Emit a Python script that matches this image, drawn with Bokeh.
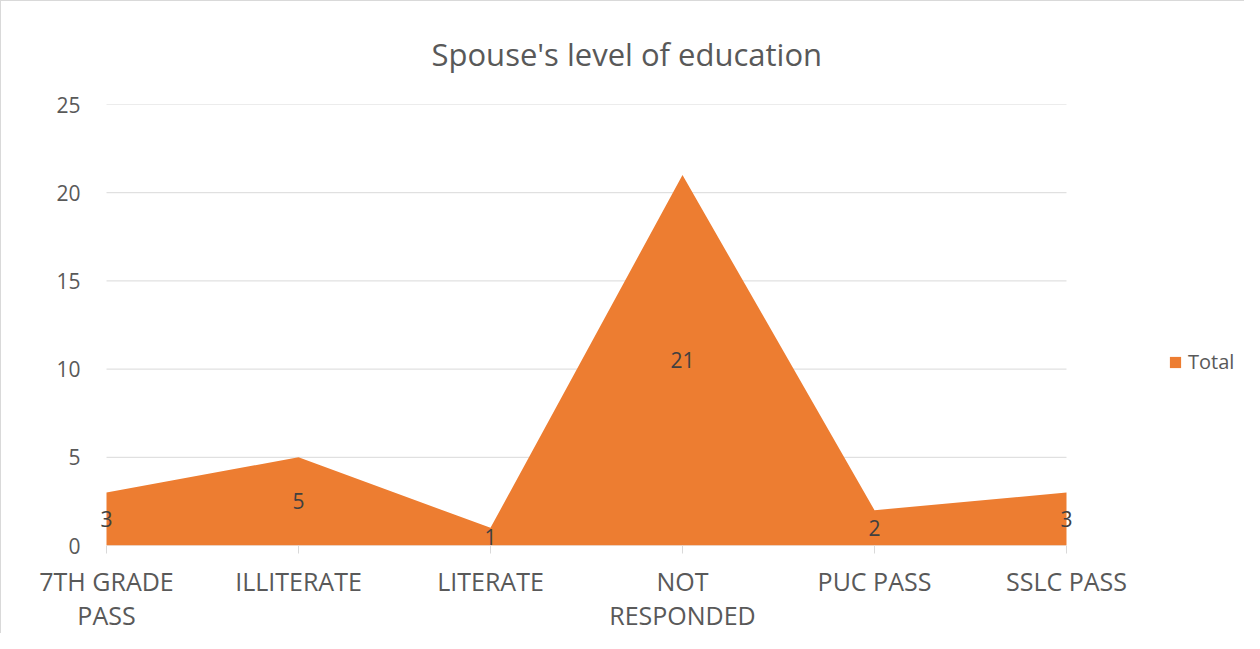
from bokeh.plotting import figure
from bokeh.models import ColumnDataSource, Legend, LegendItem, FixedTicker, Range1d
from bokeh.core.properties import value
from bokeh.embed import file_html
from bokeh.resources import INLINE

categories = ["7TH GRADE\nPASS", "ILLITERATE", "LITERATE", "NOT\nRESPONDED", "PUC PASS", "SSLC PASS"]
totals = [3, 5, 1, 21, 2, 3]
y_ticks = [0, 5, 10, 15, 20, 25]

FONT = "Open Sans"
ORANGE = "#ED7D31"
GRAY = "#595959"
GRID = "#d9d9d9"

n = len(categories)
xs = list(range(n))
src = ColumnDataSource(dict(
    x=xs,
    y=totals,
    y0=[0] * n,
    ymid=[v / 2 for v in totals],
    lbl=[str(v) for v in totals],
))
grid_src = ColumnDataSource(dict(
    x0=[0] * len(y_ticks),
    x1=[n - 1] * len(y_ticks),
    y=y_ticks,
))

W, H = 1244, 633
CAT_LEFT, TOP, BOTTOM = 105, 103, 87
PAD = 15  # extra frame room left of the first category so its label is not clipped
LEFT = CAT_LEFT - PAD
plot_w = 960  # width of the category span in pixels
step = plot_w / (n - 1)
x_start = -PAD / step
x_end = (n - 1) + (W - CAT_LEFT - plot_w) / step

p = figure(width=W, height=H, output_backend="svg", toolbar_location=None,
           x_range=Range1d(x_start, x_end), y_range=Range1d(0, 25),
           min_border_left=LEFT, min_border_right=0, min_border_top=TOP,
           min_border_bottom=BOTTOM)

p.title.text = "Spouse's level of education"
p.title.align = "left"
p.title.offset = 340
p.title.vertical_align = "top"
p.title.text_font = FONT
p.title.text_font_size = "31px"
p.title.text_font_style = "normal"
p.title.text_color = GRAY
p.title.standoff = 55

p.segment(x0="x0", x1="x1", y0="y", y1="y", source=grid_src,
          line_color=GRID, line_width=1)

area = p.varea(x="x", y1="y0", y2="y", source=src, fill_color=ORANGE)

p.text(x="x", y="ymid", text="lbl", source=src, text_font=value(FONT),
       text_font_size="21px", text_color="#404040", text_align="center",
       text_baseline="middle")

# axes
p.xaxis.ticker = FixedTicker(ticks=xs)
p.xaxis.major_label_overrides = {i: c for i, c in enumerate(categories)}
p.xaxis.major_label_text_font = FONT
p.xaxis.major_label_text_font_size = "25px"
p.xaxis.major_label_text_color = GRAY
p.xaxis.major_label_text_line_height = 1.0
p.xaxis.axis_line_color = None
p.xaxis.major_tick_line_color = GRID
p.xaxis.major_tick_out = 8
p.xaxis.major_tick_in = 0
p.xaxis.minor_tick_line_color = None
p.xaxis.major_label_standoff = 10

p.yaxis.ticker = FixedTicker(ticks=y_ticks)
p.yaxis.major_label_text_font = FONT
p.yaxis.major_label_text_font_size = "21px"
p.yaxis.major_label_text_color = GRAY
p.yaxis.axis_line_color = None
p.yaxis.major_tick_line_color = None
p.yaxis.minor_tick_line_color = None
p.yaxis.major_label_standoff = 20 - PAD

p.xgrid.grid_line_color = None
p.ygrid.grid_line_color = None
p.outline_line_color = None
p.styles = {"border-left": "1px solid #d9d9d9", "border-top": "1px solid #d9d9d9"}

legend = Legend(items=[LegendItem(label="Total", renderers=[area])],
                location=(1062 + PAD, 170), orientation="vertical",
                label_text_font=FONT, label_text_font_size="20px",
                label_text_color=GRAY, glyph_width=14, glyph_height=14,
                border_line_color=None, background_fill_alpha=0,
                padding=0, margin=0, label_standoff=6)
p.add_layout(legend, "center")

open("out.html", "w").write(file_html(p, INLINE))
